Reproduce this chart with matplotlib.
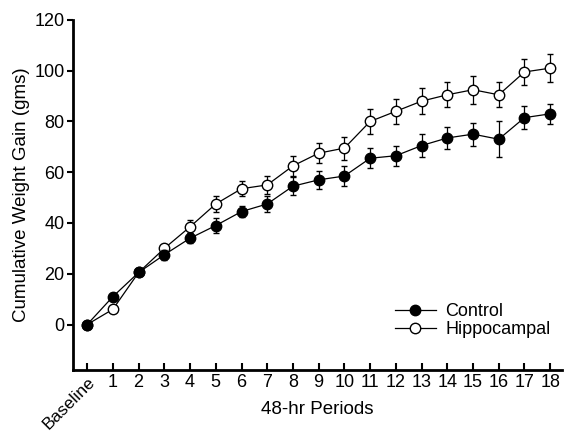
import matplotlib
matplotlib.use("Agg")
import matplotlib.pyplot as plt
from matplotlib.lines import Line2D
import numpy as np

plt.rcParams["font.family"] = ["Liberation Sans", "DejaVu Sans"]

periods = ["Baseline"] + [str(i) for i in range(1, 19)]
control = [0, 11, 20.5, 27.5, 34, 39, 44.5, 47.5, 54.5, 57, 58.5,
           65.5, 66.5, 70.5, 73.5, 75, 73, 81.5, 83]
control_err = [0, 1.5, 1, 2, 2, 3, 2, 3, 3.5, 3.5, 4,
               4, 4, 4.5, 4.5, 4.5, 7, 4.5, 4]
hippo = [0, 6, 20.5, 30, 38.5, 47.5, 53.5, 55, 62.5, 67.5, 69.5,
         80, 84, 88, 90.5, 92.5, 90.5, 99.5, 101]
hippo_err = [0, 1, 1, 1.5, 2.5, 3, 3, 3.5, 4, 4, 4.5,
             5, 5, 5, 5, 5.5, 5, 5, 5.5]

x = np.arange(len(periods))

fig = plt.figure(figsize=(5.75, 4.33), dpi=100)
ax = fig.add_axes([0.127, 0.145, 0.85, 0.809])

ax.errorbar(x, hippo, yerr=hippo_err, color="black", lw=0.9, marker="o",
            ms=7.5, mfc="white", mec="black", mew=1.0, capsize=2,
            elinewidth=0.9, zorder=3)
ax.errorbar(x, control, yerr=control_err, color="black", lw=0.9, marker="o",
            ms=7.5, mfc="black", mec="black", mew=1.0, capsize=2,
            elinewidth=0.9, zorder=4)

ax.set_xlim(-0.55, 18.45)
ax.set_ylim(-18, 120)
ax.set_yticks(np.arange(0, 121, 20))
ax.set_xticks(x)
ax.set_xticklabels(periods, fontsize=13)
lbl = ax.get_xticklabels()[0]
lbl.set_rotation(45)
lbl.set_fontsize(12.5)
lbl.set_ha("right")
lbl.set_va("top")
lbl.set_rotation_mode("anchor")
ax.tick_params(axis="y", direction="out", length=4, width=1.5, labelsize=13, pad=2)
ax.tick_params(axis="x", direction="in", length=5, width=1.5, pad=3)

for s in ["top", "right"]:
    ax.spines[s].set_visible(False)
for s in ["left", "bottom"]:
    ax.spines[s].set_linewidth(2)

ax.set_xlabel("48-hr Periods", fontsize=13.5)
ax.xaxis.set_label_coords(0.5, -0.088)
ax.set_ylabel("Cumulative Weight Gain (gms)", fontsize=13.5)
ax.yaxis.set_label_coords(-0.088, 0.5)

handles = [
    Line2D([], [], color="black", lw=0.9, marker="o", ms=7.5, mfc="black", mec="black"),
    Line2D([], [], color="black", lw=0.9, marker="o", ms=7.5, mfc="white", mec="black"),
]
ax.legend(handles, ["Control", "Hippocampal"], loc="lower right",
          bbox_to_anchor=(1.01, 0.045), frameon=False, fontsize=13,
          handlelength=2.3, handletextpad=0.5, labelspacing=0.05)

fig.savefig("out.png", dpi=100)
